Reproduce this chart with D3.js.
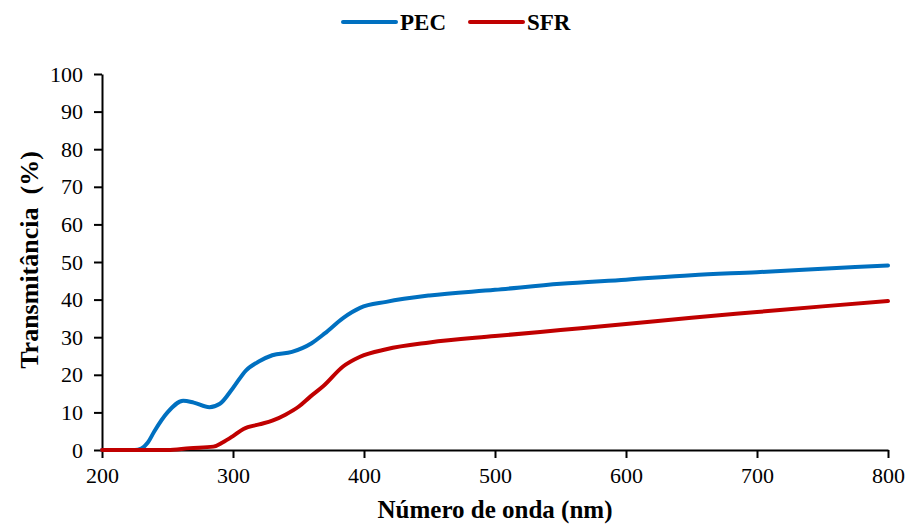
<!DOCTYPE html>
<html>
<head>
<meta charset="utf-8">
<script src="https://cdn.jsdelivr.net/npm/d3@7"></script>
<style>
  body { margin: 0; background: #fff; }
  svg text { font-family: "Liberation Serif", "Times New Roman", serif; fill: #000; }
  .axis path, .axis line { stroke: #000; stroke-width: 2; }
</style>
</head>
<body>
<div id="chart"></div>
<script>
// wavelength (nm) and transmittance (%)
const wavePEC = [200, 225, 230, 235, 240, 250, 262, 270, 282, 290, 300, 310, 320, 330, 345, 360, 370, 384, 397, 417, 450, 500, 550, 600, 650, 700, 750, 800];
const pec     = [0, 0, 0.4, 2, 5, 10, 13.1, 12.6, 11.4, 12.3, 16.5, 21.2, 23.6, 25.2, 26.1, 28.4, 31, 35.1, 37.8, 39.4, 41.1, 42.6, 44.2, 45.3, 46.5, 47.3, 48.2, 49.1];

const waveSFR = [200, 250, 267, 285, 292, 300, 308, 320, 330, 340, 350, 359, 369, 384, 397, 417, 450, 500, 550, 600, 650, 700, 750, 800];
const sfr     = [0, 0, 0.5, 0.9, 2, 3.7, 5.6, 6.8, 7.8, 9.4, 11.5, 14.2, 17, 22.2, 24.8, 26.8, 28.6, 30.3, 31.9, 33.5, 35.2, 36.7, 38.2, 39.6];

const xTicks = [200, 300, 400, 500, 600, 700, 800];
const yTicks = [0, 10, 20, 30, 40, 50, 60, 70, 80, 90, 100];

const series = [
  { name: "PEC", color: "#0070C0", x: wavePEC, y: pec },
  { name: "SFR", color: "#C00000", x: waveSFR, y: sfr }
];

const width = 907, height = 527;
const margin = { top: 74, right: 19, bottom: 77, left: 102 };
const w = width - margin.left - margin.right,
      h = height - margin.top - margin.bottom;
const serif = '"Liberation Serif", "Times New Roman", serif';

const svg = d3.select("#chart").append("svg")
    .attr("width", width)
    .attr("height", height);

const g = svg.append("g")
    .attr("transform", "translate(" + margin.left + "," + margin.top + ")");

const x = d3.scaleLinear().domain([200, 800]).range([0, w]);
const y = d3.scaleLinear().domain([0, 100]).range([h, 0]);

let xAxis = g.append("g")
    .attr("class", "axis")
    .attr("transform", "translate(0," + h + ")")
    .call(d3.axisBottom(x).tickValues(xTicks).tickSize(8).tickSizeOuter(0).tickPadding(9));

let yAxis = g.append("g")
    .attr("class", "axis")
    .call(d3.axisLeft(y).tickValues(yTicks).tickSize(8).tickSizeOuter(0).tickPadding(11));

[xAxis, yAxis].forEach(a => a.attr("font-family", serif).attr("font-size", 22));

const line = d3.line()
    .curve(d3.curveMonotoneX)
    .x(d => x(d[0]))
    .y(d => y(d[1]));

g.selectAll(".series")
  .data(series)
  .enter().append("path")
    .attr("class", "series")
    .attr("fill", "none")
    .attr("stroke", d => d.color)
    .attr("stroke-width", 4)
    .attr("stroke-linecap", "round")
    .attr("d", d => line(d.x.map((v, i) => [v, d.y[i]])));

// axis titles
svg.append("text")
    .attr("x", margin.left + w / 2)
    .attr("y", 518)
    .attr("text-anchor", "middle")
    .attr("font-size", 25)
    .attr("font-weight", "bold")
    .text("Número de onda (nm)");

svg.append("text")
    .attr("transform", "translate(38,260) rotate(-90)")
    .attr("text-anchor", "middle")
    .attr("font-size", 26)
    .attr("font-weight", "bold")
    .style("white-space", "pre")
    .text("Transmitância  (%)");

// legend
const legend = svg.append("g").attr("transform", "translate(343,22)");
const item = legend.selectAll(".leg")
  .data(series)
  .enter().append("g")
    .attr("transform", (d, i) => "translate(" + (i * 127) + ",0)");
item.append("line")
    .attr("x1", 0).attr("x2", 53)
    .attr("stroke", d => d.color)
    .attr("stroke-width", 4)
    .attr("stroke-linecap", "round");
item.append("text")
    .attr("x", 57)
    .attr("y", 8)
    .attr("font-size", 23)
    .attr("font-weight", "bold")
    .text(d => d.name);
</script>
</body>
</html>
